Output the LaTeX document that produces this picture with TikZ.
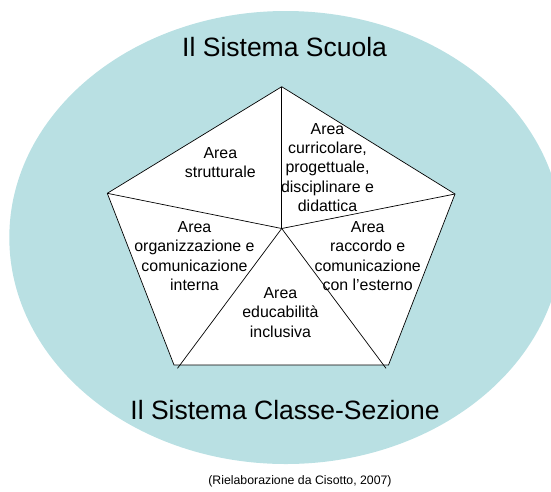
\documentclass[tikz,border=0pt]{standalone}
\usepackage{fontspec}
\setmainfont{Liberation Sans}
\definecolor{sea}{RGB}{185,224,227}
\begin{document}
\begin{tikzpicture}[x=1pt,y=-1pt,
  edge/.style={draw=black,line width=0.7pt},
  area/.style={align=center,font=\fontsize{15.9}{19.3}\selectfont,inner sep=0pt},
  bigtitle/.style={font=\fontsize{26.5}{30}\selectfont,inner sep=0pt,anchor=base},
  note/.style={font=\fontsize{12.3}{14}\selectfont,inner sep=0pt,anchor=base}]
\useasboundingbox (0,0) rectangle (551,491);
\begin{scope}
\clip (0,0) rectangle (551,491);
\fill[sea] (285.8,237.5) ellipse [x radius=276.5, y radius=226.5];
\end{scope}
\coordinate (T) at (281.7,86.7);
\coordinate (R) at (455,194);
\coordinate (BR) at (388.5,365);
\coordinate (BL) at (174,365);
\coordinate (L) at (107.3,193.3);
\coordinate (C) at (281.7,228.5);
\coordinate (SL) at (177.5,368.3);
\coordinate (SR) at (386,368.3);
\filldraw[fill=white,edge] (T) -- (R) -- (BR) -- (BL) -- (L) -- cycle;
\draw[edge] (C) -- (T);
\draw[edge] (C) -- (R);
\draw[edge] (C) -- (L);
\draw[edge] (C) -- (SL);
\draw[edge] (C) -- (SR);
\node[area] (a1) at (220.3,162.8) {Area\\strutturale};
\node[area] (a2) at (327.5,167.5) {Area\\curricolare,\\progettuale,\\disciplinare e\\didattica};
\node[area] (a3) at (194.5,256) {Area\\organizzazione e\\comunicazione\\interna};
\node[area] (a4) at (367.7,256) {Area\\raccordo e\\comunicazione\\con l’esterno};
\node[area] (a5) at (280.4,312.5) {Area\\educabilità\\inclusiva};
\node[bigtitle] (t1) at (284.6,56.7) {Il Sistema Scuola};
\node[bigtitle] (t2) at (285.1,419.3) {Il Sistema Classe-Sezione};
\node[note] (src) at (300,484) {(Rielaborazione da Cisotto, 2007)};
\end{tikzpicture}
\end{document}
